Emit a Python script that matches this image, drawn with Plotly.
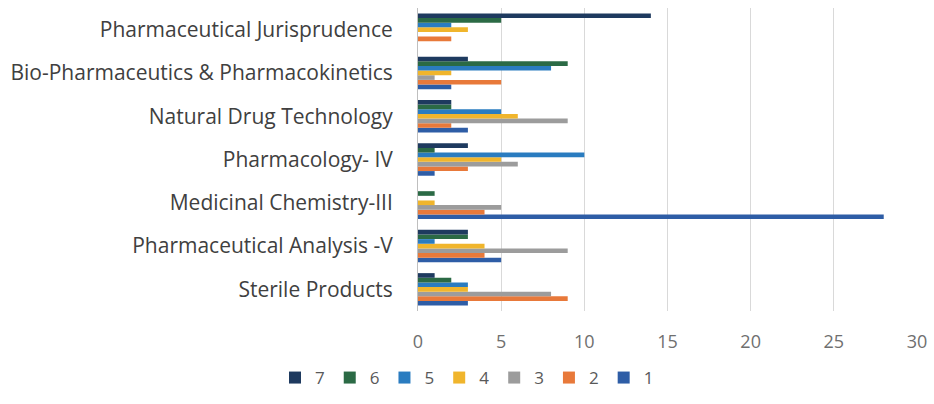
import plotly.graph_objects as go

categories = [
    "Sterile Products",
    "Pharmaceutical Analysis -V",
    "Medicinal Chemistry-III",
    "Pharmacology- IV",
    "Natural Drug Technology",
    "Bio-Pharmaceutics & Pharmacokinetics",
    "Pharmaceutical Jurisprudence",
]
series_names = ["1", "2", "3", "4", "5", "6", "7"]
s1 = [3, 5, 28, 1, 3, 2, 0]
s2 = [9, 4, 4, 3, 2, 5, 2]
s3 = [8, 9, 5, 6, 9, 1, 0]
s4 = [3, 4, 1, 5, 6, 2, 3]
s5 = [3, 1, 0, 10, 5, 8, 2]
s6 = [2, 3, 1, 1, 2, 9, 5]
s7 = [1, 3, 0, 3, 2, 3, 14]
series_values = [s1, s2, s3, s4, s5, s6, s7]
colors = ["#2E5DA6", "#E8793A", "#9C9C9C", "#F0B52C", "#2A7CC0", "#2B6A45", "#1E3A5F"]
x_ticks = [0, 5, 10, 15, 20, 25, 30]

fig = go.Figure()
for name, vals, col in zip(series_names, series_values, colors):
    fig.add_trace(go.Bar(y=categories, x=vals, name=name, orientation="h",
                         marker=dict(color=col, line=dict(width=0))))

fig.update_layout(
    barmode="group",
    bargap=0.25,
    bargroupgap=0,
    width=934, height=404,
    margin=dict(l=418, r=17, t=8, b=93),
    paper_bgcolor="white", plot_bgcolor="white",
    font=dict(family="Open Sans", color="#404040"),
    legend=dict(orientation="h", traceorder="reversed",
                x=0.5, xanchor="center", xref="container",
                y=1 - 378 / 404, yanchor="middle", yref="container",
                font=dict(size=17, color="#595959"),
                itemwidth=30, tracegroupgap=0),
    xaxis=dict(range=[0, 30], tickvals=x_ticks, showgrid=True,
               gridcolor="#D9D9D9", gridwidth=1, zeroline=False,
               showline=False, ticks="", automargin=False,
               tickfont=dict(size=18, color="#6F6F6F"),
               ticklabelstandoff=18),
    yaxis=dict(showline=True, linecolor="#BFBFBF", linewidth=1,
               ticks="", automargin=False,
               tickfont=dict(size=21, color="#404040"),
               ticklabelstandoff=20),
)

fig.write_html("out.html", config={"displayModeBar": False},
               post_script="document.body.style.margin='0';document.body.style.overflow='hidden';")
